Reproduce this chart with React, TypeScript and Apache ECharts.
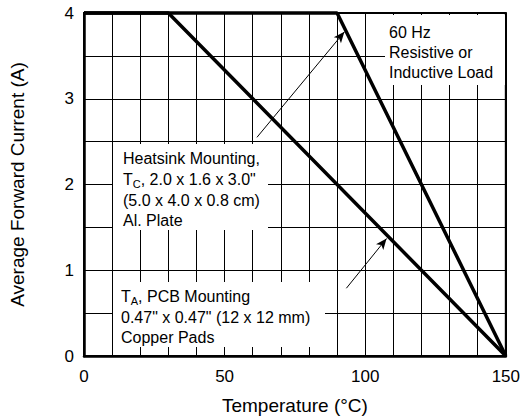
import React, { useEffect, useRef } from "react";
import * as echarts from "echarts";

const FONT = "'Liberation Sans', Arial, Helvetica, sans-serif";

// Derating curves: temperature (°C) vs average forward current (A)
const heatsinkTemp = [0, 90, 150];
const heatsinkCurrent = [4, 4, 0];
const pcbTemp = [0, 30, 150];
const pcbCurrent = [4, 4, 0];

// Axis settings
const xMin = 0;
const xMax = 150;
const yMin = 0;
const yMax = 4;

// Annotation arrows in data coordinates: [fromX, fromY, toX, toY]
const heatsinkArrow = [61.5, 2.55, 92.6, 3.78];
const pcbArrow = [93.3, 0.79, 107.6, 1.37];

const heatsinkText = ["Heatsink Mounting,", "{n|T}{s|C}{n|, 2.0 x 1.6 x 3.0\"}", "(5.0 x 4.0 x 0.8 cm)", "Al. Plate"];
const pcbText = ["{n|T}{s|A}{n|, PCB Mounting}", "0.47\" x 0.47\" (12 x 12 mm)", "Copper Pads"];
const loadText = ["60 Hz", "Resistive or", "Inductive Load"];

function textLines(lines: string[], x: number, ys: number[]) {
  return lines.map((t, i) => ({
    type: "text",
    x,
    y: ys[i],
    z: 20,
    style: {
      text: t,
      fill: "#000",
      font: `16px ${FONT}`,
      verticalAlign: "middle",
      align: "left",
      rich: {
        n: { fontSize: 16, fontFamily: FONT, fill: "#000" },
        s: { fontSize: 11, fontFamily: FONT, fill: "#000", padding: [9, 0, 0, 0] },
      },
    },
  }));
}

export default function App() {
  const ref = useRef<HTMLDivElement>(null);
  useEffect(() => {
    if (!ref.current) return;
    const chart = echarts.init(ref.current, undefined, { renderer: "svg" });
    const mkArrow = (a: number[]) => [
      { coord: [a[0], a[1]], symbol: "none" },
      { coord: [a[2], a[3]], symbol: "arrow", symbolSize: [7, 11] },
    ];
    chart.setOption({
      animation: false,
      backgroundColor: "#fff",
      grid: {
        left: 82,
        right: 14,
        top: 13,
        bottom: 62,
        show: true,
        borderColor: "#000",
        borderWidth: 2,
        backgroundColor: "transparent",
      },
      xAxis: {
        type: "value",
        min: xMin,
        max: xMax,
        interval: 50,
        name: "Temperature (°C)",
        nameLocation: "middle",
        nameGap: 40,
        nameTextStyle: { fontSize: 19, fontFamily: FONT, color: "#000" },
        axisLine: { show: true, lineStyle: { color: "#000", width: 2.5 } },
        axisTick: { show: false },
        axisLabel: { fontSize: 17, fontFamily: FONT, color: "#000", margin: 12 },
        splitLine: { show: true, lineStyle: { color: "#000", width: 1 } },
        minorTick: { show: false, splitNumber: 5 },
        minorSplitLine: { show: true, lineStyle: { color: "#000", width: 1 } },
      },
      yAxis: {
        type: "value",
        min: yMin,
        max: yMax,
        interval: 1,
        name: "Average Forward Current (A)",
        nameLocation: "middle",
        nameGap: 57,
        nameTextStyle: { fontSize: 19, fontFamily: FONT, color: "#000" },
        axisLine: { show: true, lineStyle: { color: "#000", width: 2.5 } },
        axisTick: { show: false },
        axisLabel: { fontSize: 17, fontFamily: FONT, color: "#000", margin: 10 },
        splitLine: { show: true, lineStyle: { color: "#000", width: 1 } },
        minorTick: { show: false, splitNumber: 2 },
        minorSplitLine: { show: true, lineStyle: { color: "#000", width: 1 } },
      },
      series: [
        {
          type: "line",
          data: heatsinkTemp.map((t, i) => [t, heatsinkCurrent[i]]),
          symbol: "none",
          clip: false,
          z: 10,
          lineStyle: { color: "#000", width: 3.5 },
          markLine: {
            silent: true,
            animation: false,
            z: 30,
            label: { show: false },
            lineStyle: { color: "#000", width: 1, type: "solid" },
            data: [mkArrow(heatsinkArrow), mkArrow(pcbArrow)],
          },
        },
        {
          type: "line",
          data: pcbTemp.map((t, i) => [t, pcbCurrent[i]]),
          symbol: "none",
          clip: false,
          z: 10,
          lineStyle: { color: "#000", width: 3.5 },
        },
      ],
      graphic: [
        { type: "rect", z: 15, shape: { x: 113, y: 144, width: 155, height: 86 }, style: { fill: "#fff" } },
        { type: "rect", z: 15, shape: { x: 113, y: 282, width: 212, height: 65 }, style: { fill: "#fff" } },
        { type: "rect", z: 15, shape: { x: 385, y: 15, width: 120, height: 70 }, style: { fill: "#fff" } },
        ...textLines(heatsinkText, 123, [158, 179, 200, 220]),
        ...textLines(pcbText, 121, [296, 317, 337]),
        ...textLines(loadText, 389, [32, 52, 72]),
      ],
    });
    return () => chart.dispose();
  }, []);
  return <div ref={ref} style={{ width: 523, height: 420, position: "absolute", left: 0, top: 0 }} />;
}
